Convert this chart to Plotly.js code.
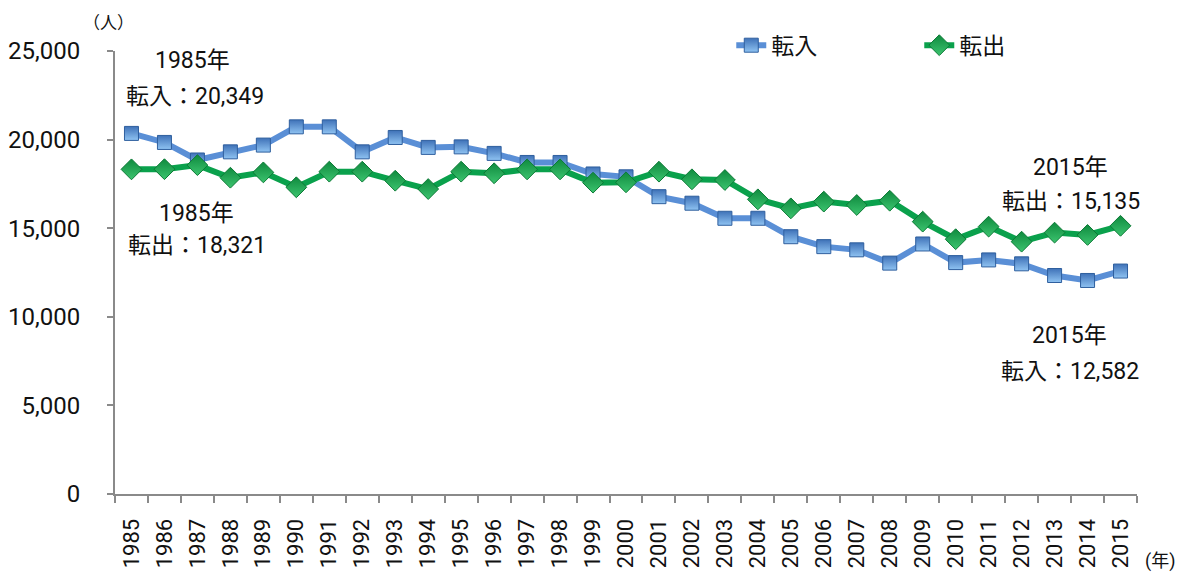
<!DOCTYPE html>
<html>
<head>
<meta charset="utf-8">
<script src="https://cdn.plot.ly/plotly-3.0.1.min.js"></script>
<style>html,body{margin:0;padding:0;background:#fff;}#chart{width:1179px;height:576px;}</style>
</head>
<body>
<div id="chart"></div>
<script>
var years = ["1985","1986","1987","1988","1989","1990","1991","1992","1993","1994","1995","1996","1997","1998","1999","2000","2001","2002","2003","2004","2005","2006","2007","2008","2009","2010","2011","2012","2013","2014","2015"];
var tenyu = [20349,19840,18850,19310,19690,20720,20720,19310,20120,19560,19590,19220,18710,18710,18060,17900,16780,16410,15560,15560,14520,13960,13780,13030,14110,13060,13210,12990,12330,12050,12582];
var tenshutsu = [18321,18330,18560,17850,18150,17310,18190,18190,17680,17210,18190,18100,18320,18320,17570,17590,18190,17760,17720,16630,16120,16500,16310,16550,15370,14380,15090,14240,14750,14620,15135];
var seriesNames = ["転入","転出"];
var yTickVals = [0,5000,10000,15000,20000,25000];

var FONT = "Roboto, 'Liberation Sans', 'Noto Sans CJK JP', sans-serif";

var traces = [
  {
    x: years, y: tenyu, name: seriesNames[0], type: "scatter", mode: "lines+markers",
    line: {color: "#5a8fd6", width: 6},
    marker: {symbol: "square", size: 14, color: "#3f72b8",
      line: {color: "#2f5f9e", width: 1},
      gradient: {type: "vertical", color: "#8fc3f2"}}
  },
  {
    x: years, y: tenshutsu, name: seriesNames[1], type: "scatter", mode: "lines+markers",
    line: {color: "#0aa14c", width: 6},
    marker: {symbol: "diamond", size: 16, color: "#0f8a3e",
      line: {color: "#0b7a35", width: 1},
      gradient: {type: "vertical", color: "#3cc46f"}}
  }
];

function ann(x, y, text, size, xanchor) {
  return {xref: "paper", yref: "paper", x: x, y: y, text: text, showarrow: false,
    xanchor: xanchor || "center", yanchor: "middle",
    font: {family: FONT, size: size || 23, color: "#111"}};
}

var layout = {
  width: 1179, height: 576,
  margin: {l: 115, r: 42, t: 51, b: 81.5},
  paper_bgcolor: "#fff", plot_bgcolor: "#fff",
  font: {family: FONT, color: "#111"},
  showlegend: true,
  legend: {orientation: "h", x: 0.603, y: 1.013, xanchor: "left", yanchor: "middle",
    font: {family: FONT, size: 23, color: "#111"}, entrywidth: 143, bgcolor: "rgba(0,0,0,0)"},
  xaxis: {
    type: "category", range: [-0.5, 30.5], autorange: false, tickson: "boundaries", ticks: "outside", ticklen: 7, tickwidth: 2,
    tickcolor: "#8a8a8a", showline: true, linecolor: "#8a8a8a", linewidth: 2,
    showgrid: false, zeroline: false, tickangle: -90, ticklabelstandoff: 14,
    tickfont: {family: FONT, size: 22, color: "#111"}, fixedrange: true
  },
  yaxis: {
    range: [0, 25000], autorange: false, tickvals: yTickVals, tickformat: ",", ticks: "outside", ticklen: 6, tickwidth: 2,
    tickcolor: "#8a8a8a", showline: true, linecolor: "#8a8a8a", linewidth: 2,
    showgrid: false, zeroline: false, ticklabelstandoff: 22,
    tickfont: {family: FONT, size: 24, color: "#111"}, fixedrange: true
  },
  annotations: [
    ann(0.0763, 0.979, "1985年"),
    ann(0.0783, 0.898, "転入：20,349"),
    ann(0.0802, 0.634, "1985年"),
    ann(0.0802, 0.560, "転出：18,321"),
    ann(0.9354, 0.738, "2015年"),
    ann(0.9354, 0.661, "転出：15,135"),
    ann(0.9344, 0.357, "2015年"),
    ann(0.9344, 0.276, "転入：12,582"),
    ann(-0.0059, 1.0625, "（人）", 17),
    ann(1.0225, -0.152, "(年)", 18)
  ]
};

Plotly.newPlot("chart", traces, layout, {displayModeBar: false, staticPlot: true});
</script>
</body>
</html>
